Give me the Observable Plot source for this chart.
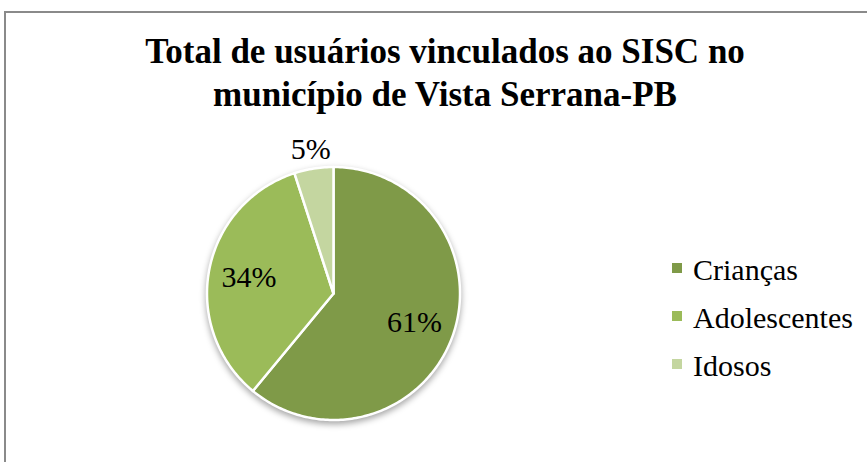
<!DOCTYPE html>
<html>
<head>
<meta charset="utf-8">
<script src="https://cdn.jsdelivr.net/npm/d3@7"></script>
<script src="https://cdn.jsdelivr.net/npm/@observablehq/plot@0.6"></script>
<style>
  html, body { margin: 0; padding: 0; background: #fff; overflow: hidden; }
  #chart { position: relative; width: 867px; height: 462px; font-family: "Liberation Serif", "Times New Roman", serif; color: #000; }
  .border-top { position: absolute; left: 5px; top: 11px; width: 862px; height: 2px; background: #8a8a8a; }
  .border-left { position: absolute; left: 4px; top: 11px; width: 2px; height: 451px; background: #8a8a8a; }
  #title { position: absolute; left: 0; top: 30px; width: 890px; text-align: center; font-weight: bold; font-size: 35px; line-height: 43px; }
  #pie { position: absolute; left: 183px; top: 143px; }
  #pie svg g[aria-label="line"] { filter: drop-shadow(0px 3px 3px rgba(0,0,0,0.35)); }
  #legend { position: absolute; left: 672px; top: 246px; font-size: 30px; line-height: 48px; }
  .item { display: flex; align-items: center; white-space: nowrap; }
  .sw { width: 10px; height: 10px; margin-right: 11px; margin-top: -4px; }
</style>
</head>
<body>
<div id="chart">
  <div class="border-top"></div>
  <div class="border-left"></div>
  <div id="title">Total de usuários vinculados ao SISC no<br>município de Vista Serrana-PB</div>
  <div id="pie"></div>
  <div id="legend"></div>
</div>
<script>
const categories = ["Crianças", "Adolescentes", "Idosos"];
const shares = [61, 34, 5];
const colors = ["#7f9a48", "#9bbb59", "#c4d6a0"];

const rows = categories.map((c, i) => ({category: c, value: shares[i]}));
const arcs = d3.pie().sort(null).value(d => d.value)(rows);

// polygon outline for each slice (angles measured clockwise from 12 o'clock)
const outline = [];
for (const a of arcs) {
  const cat = a.data.category;
  outline.push({category: cat, x: 0, y: 0});
  const steps = Math.max(2, Math.ceil((a.endAngle - a.startAngle) / (Math.PI / 180)));
  for (let k = 0; k <= steps; k++) {
    const t = a.startAngle + (a.endAngle - a.startAngle) * k / steps;
    outline.push({category: cat, x: Math.sin(t), y: Math.cos(t)});
  }
  outline.push({category: cat, x: 0, y: 0});
}

const labels = arcs.map(a => {
  const mid = (a.startAngle + a.endAngle) / 2;
  const r = a.data.value < 10 ? 1.15 : 0.68;
  return {label: a.data.value + "%", x: r * Math.sin(mid), y: r * Math.cos(mid)};
});

const size = 300, radiusPx = 126.5;
const ext = (size / 2) / radiusPx;

const plot = Plot.plot({
  width: size,
  height: size,
  margin: 0,
  x: {domain: [-ext, ext], axis: null},
  y: {domain: [-ext, ext], axis: null},
  color: {domain: categories, range: colors},
  marks: [
    Plot.line(outline, {x: "x", y: "y", z: "category", fill: "category", stroke: "white", strokeWidth: 2.5, strokeLinejoin: "round", curve: "linear"}),
    Plot.text(labels, {x: "x", y: "y", text: "label", fontSize: 30, fontFamily: "Liberation Serif", fill: "#000"})
  ]
});
plot.style.background = "transparent";
plot.style.overflow = "visible";
document.getElementById("pie").appendChild(plot);

const legend = document.getElementById("legend");
categories.forEach((c, i) => {
  const item = document.createElement("div");
  item.className = "item";
  const sw = document.createElement("span");
  sw.className = "sw";
  sw.style.background = colors[i];
  const tx = document.createElement("span");
  tx.textContent = c;
  item.appendChild(sw);
  item.appendChild(tx);
  legend.appendChild(item);
});
</script>
</body>
</html>
